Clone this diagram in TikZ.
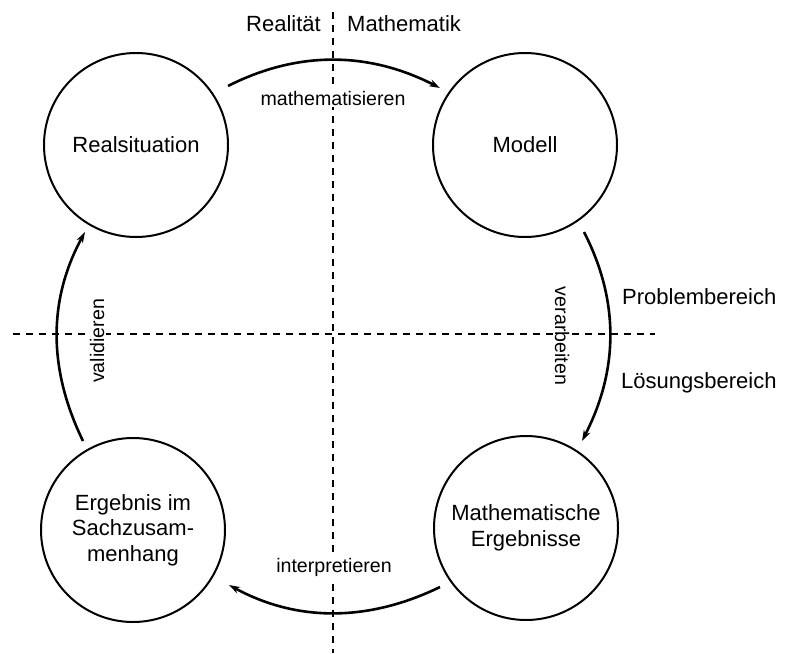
\documentclass[tikz,border=0pt]{standalone}
\usepackage{fontspec}
\setmainfont{Liberation Sans}
\usetikzlibrary{arrows.meta}
\begin{document}
\begin{tikzpicture}[x=1pt,y=-1pt,
  stage/.style={circle,draw,line width=2pt,minimum size=184pt,inner sep=0pt,align=center,font=\fontsize{22}{25.5}\selectfont},
  flow/.style={line width=2.6pt,-{Stealth[length=11pt,width=7pt]}},
  divider/.style={line width=2pt,dash pattern=on 7pt off 6pt},
  act/.style={fill=white,inner sep=2pt,font=\fontsize{19.6}{22}\selectfont},
  area/.style={inner sep=0pt,font=\fontsize{22}{26}\selectfont}]
\useasboundingbox (0,0) rectangle (792,653);
% dividers
\coordinate (vtop) at (333,12);
\coordinate (vbot) at (333,653);
\coordinate (hl) at (13,334);
\coordinate (hr) at (655,334);
\draw[divider] (vtop) -- (vbot);
\draw[divider] (hl) -- (hr);
% stages
\node[stage] (rs) at (136,145) {Realsituation};
\node[stage] (mo) at (525,145) {Modell};
\node[stage] (er) at (133,530) {Ergebnis im\\Sachzusam-\\menhang};
\node[stage] (me) at (526,528) {Mathematische\\Ergebnisse};
% arrow ends
\coordinate (a1s) at (228,86);
\coordinate (a1e) at (440,88);
\coordinate (a2s) at (584,232);
\coordinate (a2e) at (582,441);
\coordinate (a3s) at (440,587);
\coordinate (a3e) at (229,585);
\coordinate (a4s) at (83,441);
\coordinate (a4e) at (85,232);
\draw[flow] (a1s) .. controls (297,51) and (368,51) .. (a1e);
\draw[flow] (a2s) .. controls (619,300) and (619,369) .. (a2e);
\draw[flow] (a3s) .. controls (368,622) and (297,622) .. (a3e);
\draw[flow] (a4s) .. controls (48,369) and (48,300) .. (a4e);
% labels
\node[act,anchor=base] (l1) at (333,105) {mathematisieren};
\node[act,rotate=-90] (l2) at (562,336) {verarbeiten};
\node[act,anchor=base] (l3) at (334,572) {interpretieren};
\node[act,rotate=90] (l4) at (97,341) {validieren};
\node[area,anchor=base east] (tr) at (321,31) {Realität};
\node[area,anchor=base west] (tm) at (347,31) {Mathematik};
\node[area,anchor=base west] (tp) at (622,304) {Problembereich};
\node[area,anchor=base west] (tl) at (621,388) {Lösungsbereich};
\end{tikzpicture}
\end{document}
